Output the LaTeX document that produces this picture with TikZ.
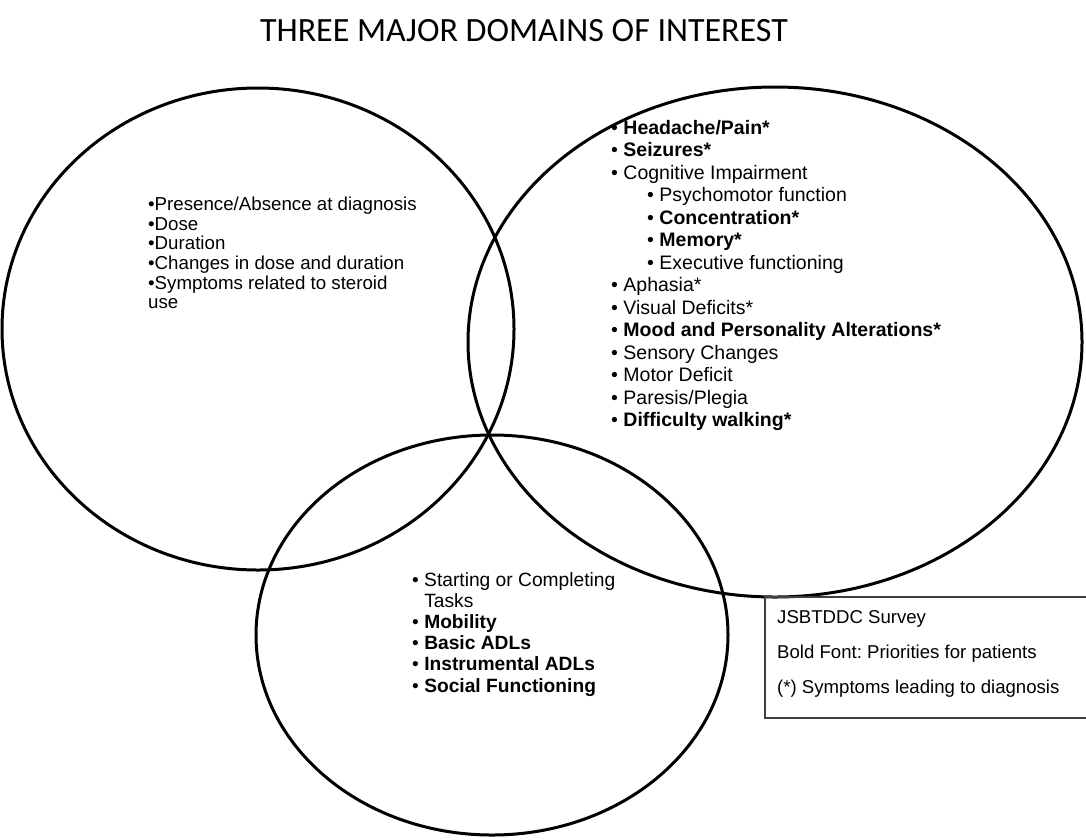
\documentclass[tikz,border=0pt]{standalone}
\usepackage{fontspec}
\setmainfont{Liberation Sans}
\newfontfamily\titlefont{Carlito}
\frenchspacing
\begin{document}
\begin{tikzpicture}[x=1pt,y=-1pt,
  circ/.style={draw=black,line width=3pt},
  listtxt/.style={anchor=north west,inner sep=0pt,align=left},
  legbox/.style={draw=black!75,line width=1.2pt}]
\useasboundingbox (0,0) rectangle (1086,839);
\draw[circ] (258,329) ellipse [x radius=256, y radius=241];
\draw[circ] (775,342) ellipse [x radius=307, y radius=255];
\draw[circ] (492,635) ellipse [x radius=236, y radius=200];
\node[font=\titlefont\fontsize{34}{38}\selectfont] (title) at (524,31) {THREE MAJOR DOMAINS OF INTEREST};
\node[listtxt,font=\fontsize{18.7}{19.6}\selectfont] (steroid) at (148,197) {%
•Presence/Absence at diagnosis\\
•Dose\\
•Duration\\
•Changes in dose and duration\\
•Symptoms related to steroid\\
use};
\node[listtxt,font=\fontsize{19.5}{22.5}\selectfont] (symptoms) at (611,120) {%
• \textbf{Headache/Pain*}\\
• \textbf{Seizures*}\\
• Cognitive Impairment\\
\hspace{36pt}• Psychomotor function\\
\hspace{36pt}• \textbf{Concentration*}\\
\hspace{36pt}• \textbf{Memory*}\\
\hspace{36pt}• Executive functioning\\
• Aphasia*\\
• Visual Deficits*\\
• \textbf{Mood and Personality Alterations*}\\
• Sensory Changes\\
• Motor Deficit\\
• Paresis/Plegia\\
• \textbf{Difficulty walking*}};
\node[listtxt,font=\fontsize{19.2}{21.2}\selectfont] (function) at (412,572) {%
• Starting or Completing\\
\phantom{• }Tasks\\
• \textbf{Mobility}\\
• \textbf{Basic ADLs}\\
• \textbf{Instrumental ADLs}\\
• \textbf{Social Functioning}};
\draw[legbox] (765,597) rectangle (1092,718);
\node[listtxt,font=\fontsize{18.6}{35}\selectfont] (legend) at (777,610) {%
JSBTDDC Survey\\
Bold Font: Priorities for patients\\
(*) Symptoms leading to diagnosis};
\end{tikzpicture}
\end{document}
